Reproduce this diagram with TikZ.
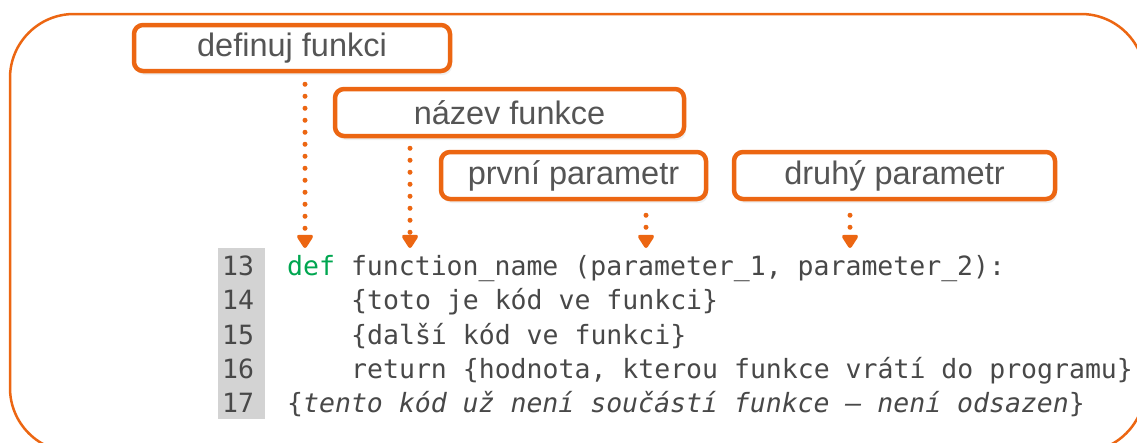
\documentclass[tikz,border=0pt]{standalone}
\usepackage{fontspec}
\setmainfont{Liberation Sans}
\newfontfamily\codefont{DejaVu Sans Mono}
\usetikzlibrary{arrows.meta,shadows}
\definecolor{frameorange}{RGB}{236,102,18}
\definecolor{labelgray}{RGB}{85,85,85}
\definecolor{codegray}{RGB}{72,72,72}
\definecolor{numbg}{RGB}{211,211,211}
\definecolor{defgreen}{RGB}{0,166,80}
\tikzset{
  labelbox/.style={draw=frameorange, line width=4.5pt, rounded corners=9pt, fill=white,
    inner sep=0pt, text=labelgray, font=\fontsize{32.5}{36}\selectfont,
    drop shadow={opacity=0.12, shadow xshift=2pt, shadow yshift=-4pt}},
  dotarrow/.style={draw=frameorange, line width=5pt, line cap=round,
    dash pattern=on 0pt off 12pt,
    -{Triangle[width=18pt,length=15pt,round]}},
  codeline/.style={anchor=base west, inner sep=0pt, text=codegray,
    font=\codefont\fontsize{26.5}{30}\selectfont},
}
\begin{document}
\begin{tikzpicture}[x=1pt,y=-1pt]
\useasboundingbox (0,0) rectangle (1137,442);
% outer frame
\draw[frameorange, line width=2.5pt, rounded corners=64pt] (10,14) rectangle (1145,452);
% label boxes
\node[labelbox, minimum width=316pt, minimum height=46pt] (b1) at (292,48) {definuj funkci};
\node[labelbox, minimum width=349pt, minimum height=47pt] (b2) at (509.5,112.5) {název funkce};
\node[labelbox, minimum width=265pt, minimum height=47pt] (b3) at (573.5,175.5) {první parametr};
\node[labelbox, minimum width=321pt, minimum height=47pt] (b4) at (894.5,175.5) {druhý parametr};
% arrow tips
\coordinate (t1) at (305,248);
\coordinate (t2) at (410,248);
\coordinate (t3) at (646,248);
\coordinate (t4) at (850,248);
\draw[dotarrow] ([yshift=-11pt]b1.south -| t1) -- (t1);
\draw[dotarrow] ([yshift=-10pt]b2.south -| t2) -- (t2);
\draw[dotarrow] ([yshift=-14pt]b3.south -| t3) -- (t3);
\draw[dotarrow] ([yshift=-14pt]b4.south -| t4) -- (t4);
% line number column
\fill[numbg] (218,248) rectangle (265,419);
\node[codeline] (n13) at (222,275) {13};
\node[codeline] (n14) at (222,309.5) {14};
\node[codeline] (n15) at (222,344) {15};
\node[codeline] (n16) at (222,378) {16};
\node[codeline] (n17) at (222,412.5) {17};
% code
\node[codeline] (c13) at (287,275) {\textcolor{defgreen}{def} function\_name (parameter\_1, parameter\_2):};
\node[codeline] (c14) at (351,309.5) {\{toto je kód ve funkci\}};
\node[codeline] (c15) at (351,344) {\{další kód ve funkci\}};
\node[codeline] (c16) at (351,378) {return \{hodnota, kterou funkce vrátí do programu\}};
\node[codeline] (c17) at (287,412.5) {\{\textit{tento kód už není součástí funkce – není odsazen}\}};
\end{tikzpicture}
\end{document}
